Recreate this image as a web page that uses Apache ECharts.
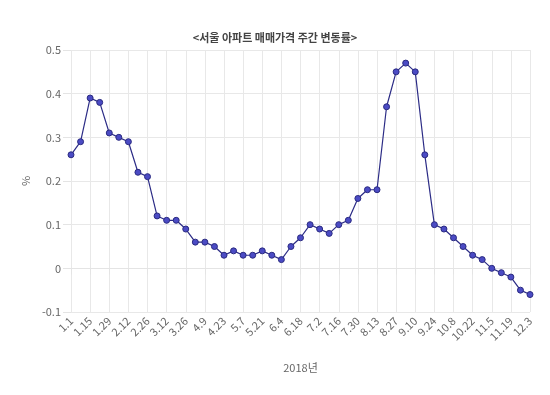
<!DOCTYPE html>
<html><head><meta charset="utf-8">
<script src="https://cdn.jsdelivr.net/npm/echarts@6/dist/echarts.min.js"></script>
<style>html,body{margin:0;padding:0;background:#fff}#c{width:550px;height:395px}</style>
</head><body><div id="c"></div>
<script>
const categories = ['1.1','1.8','1.15','1.22','1.29','2.5','2.12','2.19','2.26','3.5','3.12','3.19','3.26','4.2','4.9','4.16','4.23','4.30','5.7','5.14','5.21','5.28','6.4','6.11','6.18','6.25','7.2','7.9','7.16','7.23','7.30','8.6','8.13','8.20','8.27','9.3','9.10','9.17','9.24','10.1','10.8','10.15','10.22','10.29','11.5','11.12','11.19','11.26','12.3'];
const values = [0.26,0.29,0.39,0.38,0.31,0.30,0.29,0.22,0.21,0.12,0.11,0.11,0.09,0.06,0.06,0.05,0.03,0.04,0.03,0.03,0.04,0.03,0.02,0.05,0.07,0.10,0.09,0.08,0.10,0.11,0.16,0.18,0.18,0.37,0.45,0.47,0.45,0.26,0.10,0.09,0.07,0.05,0.03,0.02,0.00,-0.01,-0.02,-0.05,-0.06];
const chart = echarts.init(document.getElementById('c'));
const F = 'Noto Sans CJK KR, Noto Sans, sans-serif';
chart.setOption({
  animation:false,
  textStyle:{fontFamily:F},
  title:{text:'<서울 아파트 매매가격 주간 변동률>',left:'center',top:27,
    textStyle:{fontSize:11,fontWeight:'bold',color:'#444',fontFamily:F}},
  grid:{left:71,right:20,top:50,bottom:83},
  xAxis:{type:'category',data:categories,boundaryGap:false,
    name:'2018년',nameLocation:'middle',nameGap:50,
    nameTextStyle:{color:'#666',fontSize:11,fontFamily:F},
    axisLine:{lineStyle:{color:'#e4e4e4'}},
    axisTick:{show:true,interval:1,length:6,lineStyle:{color:'#e4e4e4'}},
    axisLabel:{interval:1,rotate:45,color:'#666',fontSize:11,margin:7,fontFamily:F},
    splitLine:{show:true,interval:1,lineStyle:{color:'#e8e8e8'}}},
  yAxis:{type:'value',min:-0.1,max:0.5,interval:0.1,
    name:'%',nameLocation:'middle',nameGap:38,nameRotate:90,
    nameTextStyle:{color:'#666',fontSize:11,fontFamily:F},
    axisLine:{show:false},
    axisTick:{show:true,length:8,lineStyle:{color:'#e4e4e4'}},
    axisLabel:{color:'#666',fontSize:11,margin:10,fontFamily:F,
      formatter:v=>String(Math.round(v*10)/10)},
    splitLine:{lineStyle:{color:['#e8e8e8','#bdbdbd','#e8e8e8','#e8e8e8','#e8e8e8','#e8e8e8','#e8e8e8']}}},
  series:[{type:'line',data:values,symbol:'circle',symbolSize:6,showAllSymbol:true,
    lineStyle:{color:'#2c2c86',width:1.2},
    itemStyle:{color:'#4b4bc4',borderColor:'#2a2a80',borderWidth:1}}]
});
</script></body></html>
